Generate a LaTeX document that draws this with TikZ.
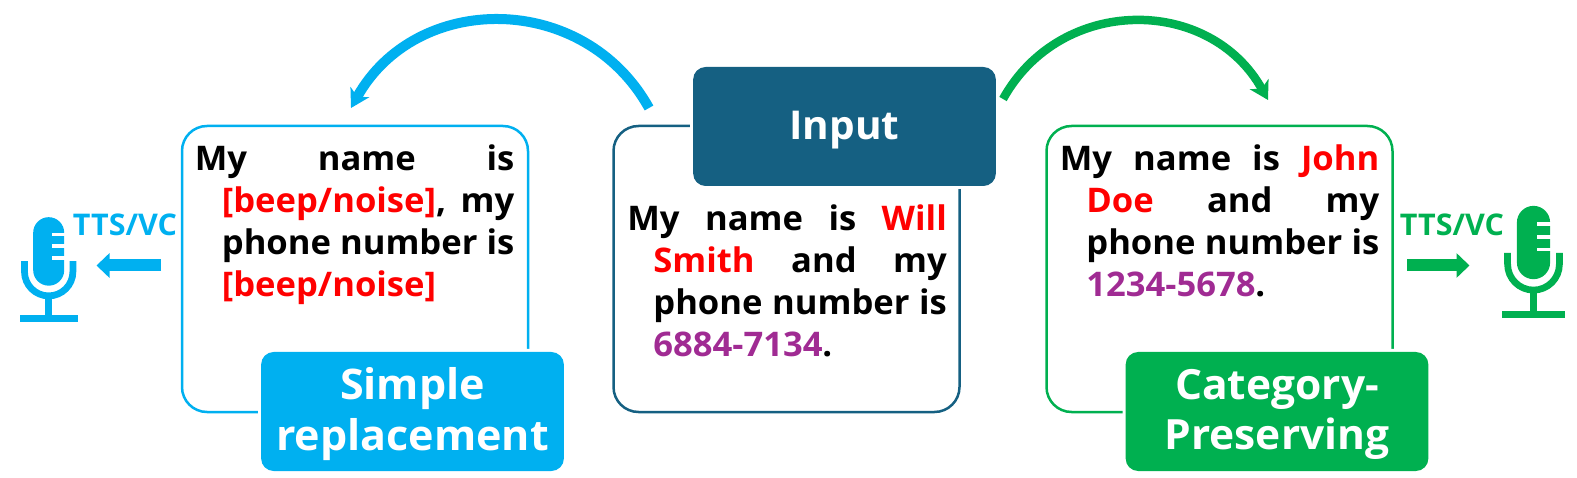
\documentclass[tikz,border=0pt]{standalone}
\usepackage{fontspec}
\setmainfont{Open Sans}[FakeStretch=1.02,WordSpace=0.8]
\usetikzlibrary{arrows.meta,positioning,calc}

\definecolor{inputblue}{HTML}{156082}
\definecolor{simpleblue}{HTML}{00B0F0}
\definecolor{catgreen}{HTML}{00B050}
\definecolor{phonepurple}{HTML}{A02B93}

\newcommand{\nameword}[1]{\textcolor{red}{#1}}
\newcommand{\phoneword}[1]{\textcolor{phonepurple}{#1}}
\newcommand{\sethang}[1]{\leavevmode\hangindent=#1\relax\tolerance=10000\hbadness=10000\relax}

% one microphone, origin at the middle of the stand foot
\newcommand{\micicon}[3]{%
  \begin{scope}[shift={#1},x=0.02cm,y=0.02cm,scale=#3]
    \fill[#2] (-15.5,48.5) arc[start angle=180,end angle=360,radius=15.5] -- (15.5,86) arc[start angle=0,end angle=180,radius=15.5] -- cycle;
    \foreach \y in {86,74.5,62.5} {\fill[white] (3.5,\y) rectangle (16,\y-3.6);}
    \draw[#2,line width=0.135cm] (-24.2,57.5) -- (-24.2,47) arc[start angle=180,end angle=360,radius=24.2] -- (24.2,57.5);
    \draw[#2,line width=0.15cm] (0,0) -- (0,23);
    \fill[#2] (-29,-3.6) rectangle (29,3.6);
  \end{scope}}

\begin{document}
\begin{tikzpicture}[
    textbox/.style={draw,fill=white,rounded corners=0.5cm,line width=0.05cm,minimum width=6.92cm,minimum height=5.72cm},
    tagbox/.style={rounded corners=0.25cm,text=white,font=\fontsize{24}{28.5}\selectfont\bfseries,align=center,text width=5.82cm,minimum height=2.38cm,preaction={draw=white,line width=0.12cm},execute at begin node={\rule{0pt}{0.88em}}},
    sample/.style={anchor=north west,inner sep=0pt,text width=6.39cm,align=justify,font=\fontsize{19.3}{23.9}\selectfont\bfseries},
    ttslabel/.style={inner sep=0pt,anchor=base,font=\fontsize{17}{18}\selectfont\bfseries},
    bigarc/.style={-{Stealth[length=3.6mm,width=4.2mm,inset=1mm]}},
    smallarrow/.style={-{Triangle[length=2.6mm,width=4.8mm]},line width=0.24cm}
]

\useasboundingbox (0,0) rectangle (31.54,-9.56);

% Boxes
\node[textbox,draw=simpleblue] (leftbox) at (7.10,-5.38) {};
\node[textbox,draw=inputblue] (midbox) at (15.73,-5.38) {};
\node[textbox,draw=catgreen] (rightbox) at (24.39,-5.38) {};

% Labels
\node[tagbox,fill=simpleblue] (simple) at (8.25,-8.23) {Simple\\replacement};
\node[tagbox,fill=inputblue,font=\fontsize{22.6}{28.5}\selectfont\bfseries] (input) at (16.89,-2.53) {Input};
\node[tagbox,fill=catgreen,font=\fontsize{23.7}{28.5}\selectfont\bfseries] (category) at (25.54,-8.23) {Category-\\Preserving};

% Sentences
\node[sample] (lefttext) at (3.89,-2.88) {\sethang{0.54cm}My name is \linebreak \nameword{[beep/noise]}, my \linebreak phone number is \linebreak \nameword{[beep/noise]}\par};
\node[sample] (midtext) at (12.54,-4.09) {\sethang{0.52cm}My name is \nameword{Will} \linebreak \nameword{Smith} and my \linebreak phone number is \linebreak \phoneword{6884-7134}.\par};
\node[sample] (righttext) at (21.19,-2.88) {\sethang{0.53cm}My name is \nameword{John} \linebreak \nameword{Doe} and my \linebreak phone number is \linebreak \phoneword{1234-5678}.\par};

% Big arcs
\coordinate (bluestart) at (12.98,-2.16);
\coordinate (blueend) at (7.02,-2.16);
\coordinate (greenstart) at (20.06,-1.98);
\coordinate (greenend) at (25.36,-2.00);
\draw[bigarc,simpleblue,line width=0.2cm] (bluestart) to[out=119,in=61,looseness=1.15] (blueend);
\draw[bigarc,catgreen,line width=0.17cm] (greenstart) to[out=61,in=119,looseness=1.15] (greenend);

% TTS/VC
\node[ttslabel,text=simpleblue] (ttsleft) at (2.50,-4.72) {TTS/VC};
\node[ttslabel,text=catgreen] (ttsright) at (29.04,-4.72) {TTS/VC};
\coordinate (leftfrom) at (3.22,-5.31);
\coordinate (leftto) at (1.93,-5.31);
\coordinate (rightfrom) at (28.14,-5.31);
\coordinate (rightto) at (29.39,-5.31);
\draw[smallarrow,simpleblue] (leftfrom) -- (leftto);
\draw[smallarrow,catgreen] (rightfrom) -- (rightto);

% Microphones
\micicon{(0.974,-6.374)}{simpleblue}{1}
\micicon{(30.67,-6.29)}{catgreen}{1.07}

\end{tikzpicture}
\end{document}
